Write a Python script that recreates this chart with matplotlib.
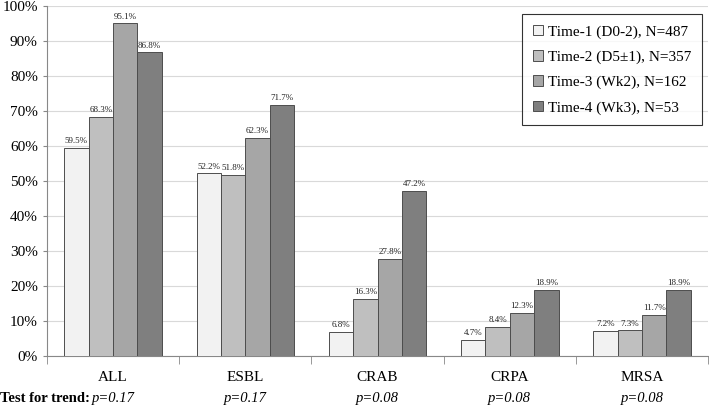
import numpy as np
import matplotlib
matplotlib.use("Agg")
import matplotlib.pyplot as plt
from matplotlib.transforms import blended_transform_factory

# Data
categories = ["ALL", "ESBL", "CRAB", "CRPA", "MRSA"]
series_labels = ["Time-1 (D0-2), N=487", "Time-2 (D5\u00b11), N=357",
                 "Time-3 (Wk2), N=162", "Time-4 (Wk3), N=53"]
time1 = [59.5, 52.2, 6.8, 4.7, 7.2]
time2 = [68.3, 51.8, 16.3, 8.4, 7.3]
time3 = [95.1, 62.3, 27.8, 12.3, 11.7]
time4 = [86.8, 71.7, 47.2, 18.9, 18.9]
p_values = ["p=0.17", "p=0.17", "p=0.08", "p=0.08", "p=0.08"]

colors = ["#f2f2f2", "#bfbfbf", "#a6a6a6", "#7f7f7f"]
edge = "#4d4d4d"

plt.rcParams['font.family'] = ['Liberation Serif', 'DejaVu Serif']

fig = plt.figure(figsize=(7.09, 4.12), dpi=100)
ax = fig.add_axes([0.066, 0.136, 0.933, 0.849])

x = np.arange(len(categories))
width = 0.184
all_series = [time1, time2, time3, time4]
for i, (vals, lab, c) in enumerate(zip(all_series, series_labels, colors)):
    pos = x + (i - 1.5) * width
    ax.bar(pos, vals, width, color=c, edgecolor=edge, linewidth=0.7,
           label=lab, zorder=3)
    for xp, v in zip(pos, vals):
        ax.text(xp, v + 0.8, f"{v:.1f}%", ha="center", va="bottom",
                fontsize=6.5, color="#222222", zorder=4)

ax.set_ylim(0, 100)
ax.set_xlim(-0.5, len(categories) - 0.5)
ax.set_yticks(np.arange(0, 101, 10))
ax.set_yticklabels([f"{v}%" for v in range(0, 101, 10)], fontsize=11)
ax.yaxis.grid(True, color="#d9d9d9", linewidth=0.8, zorder=0)
ax.set_axisbelow(True)

ax.set_xticks(x)
ax.set_xticklabels(categories, fontsize=11)
ax.set_xticks(np.arange(-0.5, len(categories)), minor=True)
ax.tick_params(axis="x", which="major", length=0, pad=11)
ax.tick_params(axis="x", which="minor", length=6, color="#888888")
ax.tick_params(axis="y", length=3, color="#888888")

for s in ["top", "right"]:
    ax.spines[s].set_visible(False)
for s in ["left", "bottom"]:
    ax.spines[s].set_color("#888888")
    ax.spines[s].set_linewidth(0.8)

leg = ax.legend(loc="upper right", bbox_to_anchor=(0.990, 0.966),
                bbox_transform=fig.transFigure, fontsize=11,
                frameon=True, fancybox=False, edgecolor="black",
                handlelength=0.7, handleheight=0.7, handletextpad=0.3,
                labelspacing=0.75, borderpad=0.7, borderaxespad=0)
leg.get_frame().set_linewidth(0.8)

# Test for trend row
fig.text(0.0, 0.032, "Test for trend:", fontsize=10.5, fontweight="bold",
         ha="left", va="center")
trans = blended_transform_factory(ax.transData, fig.transFigure)
for xi, p in zip(x, p_values):
    ax.text(xi, 0.032, p, transform=trans, fontsize=10.5, style="italic",
            ha="center", va="center", clip_on=False)

fig.savefig("out.png", dpi=100)
